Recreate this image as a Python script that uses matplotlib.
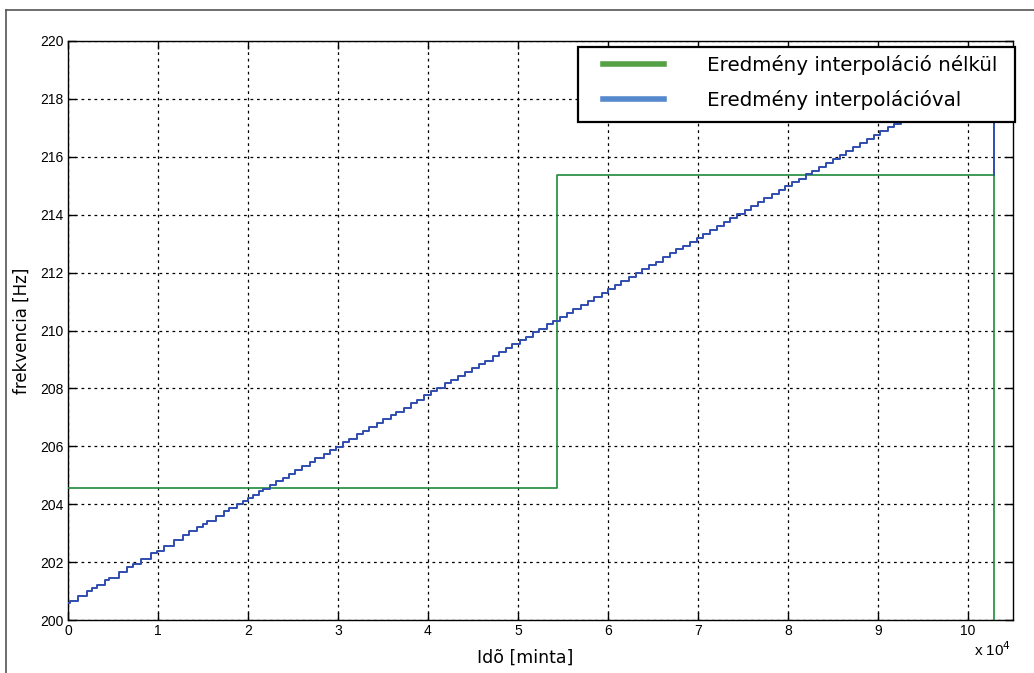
import matplotlib
matplotlib.use("Agg")
import matplotlib.pyplot as plt
from matplotlib.lines import Line2D
from matplotlib.patches import Rectangle

# Green series: result without interpolation (sample index, Hz)
green_t = [0, 54400, 102900, 102900]
green_f = [204.55, 215.37, 215.37, 199.0]

# Blue series: result with interpolation, step starts (thousands of samples) and levels (Hz)
blue_t_k = [0, 0.22, 1.11, 2.07, 2.67, 3.26, 4.15, 4.60, 5.71, 6.60, 7.26, 8.15, 9.26, 9.86,
            10.67, 11.78, 12.82, 13.49, 14.37, 14.97, 15.48, 16.45, 17.34, 17.93, 18.82, 19.41,
            20.01, 20.53, 21.19, 21.64, 22.45, 23.12, 23.86, 24.60, 25.26, 26.0, 26.9, 27.5,
            28.4, 29.1, 29.8, 30.6, 31.2, 32.1, 32.8, 33.5, 34.3, 35.0, 35.9, 36.5, 37.3, 38.1,
            38.8, 39.6, 40.4, 41.0, 41.9, 42.6, 43.4, 44.1, 44.9, 45.7, 46.3, 47.2, 47.9, 48.7,
            49.4, 50.2, 50.9, 51.7, 52.4, 53.2, 53.9, 54.7, 55.5, 56.1, 57.0, 57.8, 58.5, 59.3,
            60.0, 60.8, 61.5, 62.3, 63.1, 63.8, 64.6, 65.3, 66.1, 66.9, 67.6, 68.3, 69.1, 69.9,
            70.6, 71.4, 72.1, 72.9, 73.6, 74.4, 75.2, 75.9, 76.7, 77.4, 78.2, 79.0, 79.7, 80.5,
            81.2, 82.0, 82.7, 83.5, 84.3, 85.0, 85.8, 86.5, 87.3, 88.0, 88.8, 89.6, 90.3, 91.1,
            91.8, 92.6, 93.3, 94.1, 94.9, 95.6, 96.4, 97.1, 97.9, 98.6, 99.4, 100.2, 100.9,
            101.7, 102.4, 102.9]
blue_f = [200.60, 200.67, 200.83, 201.00, 201.11, 201.22, 201.38, 201.46, 201.66, 201.82,
          201.94, 202.10, 202.30, 202.40, 202.55, 202.75, 202.94, 203.06, 203.22, 203.32,
          203.42, 203.59, 203.75, 203.86, 204.02, 204.12, 204.23, 204.33, 204.44, 204.53,
          204.67, 204.79, 204.92, 205.06, 205.18, 205.31, 205.47, 205.58, 205.74, 205.87,
          205.99, 206.14, 206.25, 206.41, 206.53, 206.66, 206.80, 206.93, 207.09, 207.20,
          207.34, 207.49, 207.61, 207.76, 207.90, 208.01, 208.17, 208.30, 208.44, 208.57,
          208.71, 208.86, 208.96, 209.13, 209.25, 209.40, 209.52, 209.67, 209.79, 209.94,
          210.06, 210.21, 210.33, 210.48, 210.62, 210.73, 210.89, 211.03, 211.16, 211.30,
          211.43, 211.57, 211.70, 211.84, 211.99, 212.11, 212.26, 212.38, 212.53, 212.67,
          212.80, 212.92, 213.07, 213.21, 213.34, 213.48, 213.61, 213.75, 213.88, 214.02,
          214.17, 214.29, 214.44, 214.56, 214.71, 214.85, 214.98, 215.12, 215.25, 215.39,
          215.52, 215.66, 215.80, 215.93, 216.07, 216.20, 216.34, 216.47, 216.61, 216.76,
          216.88, 217.03, 217.15, 217.30, 217.42, 217.57, 217.71, 217.84, 217.98, 218.11,
          218.25, 218.38, 218.52, 218.67, 218.79, 218.94, 219.06, 215.37]

x_ticks = [0, 10000, 20000, 30000, 40000, 50000, 60000, 70000, 80000, 90000, 100000]
x_tick_labels = ["0", "1", "2", "3", "4", "5", "6", "7", "8", "9", "10"]
y_ticks = [200, 202, 204, 206, 208, 210, 212, 214, 216, 218, 220]
legend_labels = ["Eredmény interpoláció nélkül", "Eredmény interpolációval"]

plt.rcParams['font.family'] = ['Liberation Sans', 'DejaVu Sans']

W, H = 1034, 673
fig = plt.figure(figsize=(W / 100, H / 100), dpi=100)
ax = fig.add_axes([68 / W, 1 - 620 / H, (1012.7 - 68) / W, (620 - 41) / H])

green_c = "#1f8a3a"
blue_c = "#2f4db0"
ax.plot(green_t, green_f, drawstyle="steps-post", color=green_c, lw=1.2, zorder=3)
blue_t = [v * 1000 for v in blue_t_k]
ax.plot(blue_t, blue_f, drawstyle="steps-post", color=blue_c, lw=1.4, zorder=4)

ax.set_xlim(0, 105000)
ax.set_ylim(200, 220)
ax.set_xticks(x_ticks)
ax.set_xticklabels(x_tick_labels)
ax.set_yticks(y_ticks)
ax.tick_params(direction="in", length=6, width=1, top=True, right=True,
               labelsize=10, pad=3)
for s in ax.spines.values():
    s.set_linewidth(1.0)
ax.grid(True, color="black", linestyle=(0, (2.2, 3.0)), linewidth=0.9)

ax.set_xlabel("Idõ [minta]", fontsize=12.5, family="DejaVu Sans")
ax.xaxis.set_label_coords((525 - 68) / (1012.7 - 68), -(658 - 620) / (620 - 41))
ax.xaxis.label.set_va("center")
ax.set_ylabel("frekvencia [Hz]", fontsize=12, family="DejaVu Sans")
ax.yaxis.set_label_coords(-(68 - 22) / (1012.7 - 68), 0.5)
ax.yaxis.label.set_va("center")
fig.text(993 / W, 1 - 650 / H, r"x 10$^{4}$", fontsize=11, ha="center", va="center")

# legend box
fig.add_artist(Rectangle((578 / W, 1 - 122 / H), 437 / W, 75 / H, transform=fig.transFigure,
                         facecolor="white", edgecolor="black", lw=1.6, zorder=5))
handles = [Line2D([], [], color="#55a045", lw=4),
           Line2D([], [], color="#5588cc", lw=4)]
leg = fig.legend(handles, legend_labels, loc="upper left",
                 bbox_to_anchor=(603 / W, 1 - 55 / H), borderaxespad=0, borderpad=0,
                 prop={"family": "DejaVu Sans", "size": 14.3},
                 handlelength=3.05, handletextpad=2.2, labelspacing=0.76,
                 frameon=False)
leg.set_zorder(6)

# outer frame of the figure window (top and left edges)
fig.add_artist(Line2D([6 / W, 1.0], [1 - 10 / H, 1 - 10 / H], transform=fig.transFigure,
                      color="#555555", lw=1.2))
fig.add_artist(Line2D([6 / W, 6 / W], [0, 1 - 10 / H], transform=fig.transFigure,
                      color="#555555", lw=1.2))

fig.savefig("out.png", dpi=100, facecolor="white")
